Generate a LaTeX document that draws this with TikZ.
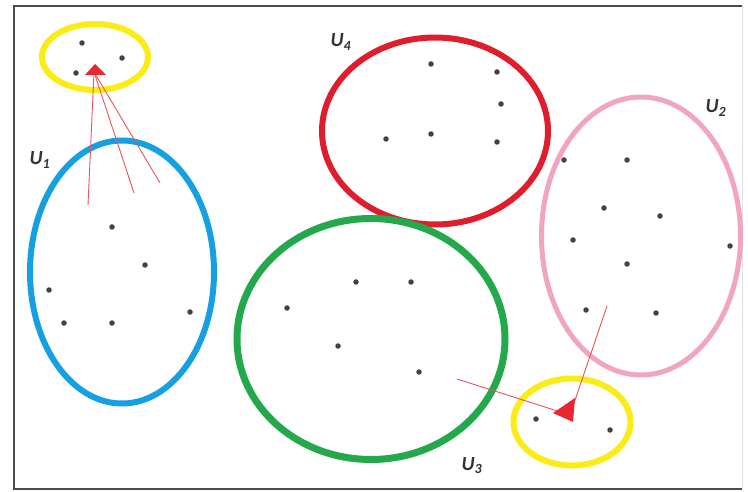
\documentclass[tikz,border=0pt]{standalone}
\usepackage{fontspec}
\setmainfont{Carlito}
\usetikzlibrary{shapes.geometric}
\definecolor{cyel}{RGB}{250,236,20}
\definecolor{cblue}{RGB}{20,160,225}
\definecolor{cred}{RGB}{222,30,45}
\definecolor{cpink}{RGB}{242,165,195}
\definecolor{cgreen}{RGB}{35,168,75}
\definecolor{cdot}{RGB}{65,65,70}
\definecolor{carrow}{RGB}{230,40,50}
\tikzset{
  set/.style={ellipse, draw=#1, inner sep=0pt, line width=6pt},
  pt/.style={circle, fill=cdot, inner sep=0pt, minimum size=5.5pt},
  lab/.style={font=\fontsize{20}{20}\selectfont\bfseries\itshape, text=black!80, inner sep=0pt},
  link/.style={draw=carrow!80!white, line width=0.9pt},
  head/.style={fill=carrow}
}
\begin{document}
\begin{tikzpicture}[x=1pt,y=-1pt]
\useasboundingbox (0,0) rectangle (748,492);
\fill[white] (0,0) rectangle (748,492);
% frame
\draw[black!70, line width=2.2pt] (742,6) -- (14,6) -- (14,489) -- (742,489);
\draw[black!12, line width=1pt] (742,6) -- (742,489);
% sets
\node[set=cyel, minimum width=106pt, minimum height=66pt] (Y1) at (95,57) {};
\node[set=cblue, minimum width=184pt, minimum height=263pt] (S1) at (122,272) {};
\node[set=cred, minimum width=226pt, minimum height=187pt] (S4) at (435,131) {};
\node[set=cpink, minimum width=199pt, minimum height=278pt, line width=5pt] (S2) at (641,236) {};
\node[set=cgreen, minimum width=268pt, minimum height=241pt, line width=7pt] (S3) at (371,339) {};
\node[set=cyel, minimum width=117pt, minimum height=87pt] (Y2) at (572,422) {};
% labels
\node[lab] (L1) at (40,160) {U\textsubscript{1}};
\node[lab] (L2) at (716,108) {U\textsubscript{2}};
\node[lab] (L3) at (472,466) {U\textsubscript{3}};
\node[lab] (L4) at (341,42) {U\textsubscript{4}};
% points: yellow top
\node[pt] (y1a) at (82,43) {};
\node[pt] (y1b) at (122,58) {};
\node[pt] (y1c) at (76,73) {};
% points: U1
\node[pt] (a1) at (112,227) {};
\node[pt] (a2) at (145,265) {};
\node[pt] (a3) at (49,290) {};
\node[pt] (a4) at (64,323) {};
\node[pt] (a5) at (112,323) {};
\node[pt] (a6) at (190,312) {};
% points: U4
\node[pt] (d1) at (431,64) {};
\node[pt] (d2) at (497,72) {};
\node[pt] (d3) at (501,104) {};
\node[pt] (d4) at (386,139) {};
\node[pt] (d5) at (431,134) {};
\node[pt] (d6) at (497,142) {};
% points: U2
\node[pt] (b1) at (564,160) {};
\node[pt] (b2) at (627,160) {};
\node[pt] (b3) at (604,208) {};
\node[pt] (b4) at (660,216) {};
\node[pt] (b5) at (573,240) {};
\node[pt] (b6) at (627,264) {};
\node[pt] (b7) at (730,246) {};
\node[pt] (b8) at (586,310) {};
\node[pt] (b9) at (656,313) {};
% points: U3
\node[pt] (c1) at (287,308) {};
\node[pt] (c2) at (356,282) {};
\node[pt] (c3) at (411,282) {};
\node[pt] (c4) at (338,346) {};
\node[pt] (c5) at (419,372) {};
% points: yellow bottom
\node[pt] (y2a) at (536,419) {};
\node[pt] (y2b) at (610,430) {};
% arrows to top yellow
\coordinate (t1) at (94,72);
\coordinate (s1) at (88,205);
\coordinate (s2) at (134,193);
\coordinate (s3) at (160,183);
\coordinate (h1a) at (95,64);
\coordinate (h1b) at (85,75);
\coordinate (h1c) at (106,75);
\draw[link] (s1) -- (t1);
\draw[link] (s2) -- (t1);
\draw[link] (s3) -- (t1);
\fill[head] (h1a) -- (h1b) -- (h1c) -- cycle;
% arrows to bottom yellow
\coordinate (t2) at (570,415);
\coordinate (s4) at (457,379);
\coordinate (s5) at (607,306);
\coordinate (h2a) at (553,413);
\coordinate (h2b) at (575,398);
\coordinate (h2c) at (573,422);
\draw[link] (s4) -- (t2);
\draw[link] (s5) -- (t2);
\fill[head] (h2a) -- (h2b) -- (h2c) -- cycle;
\end{tikzpicture}
\end{document}
